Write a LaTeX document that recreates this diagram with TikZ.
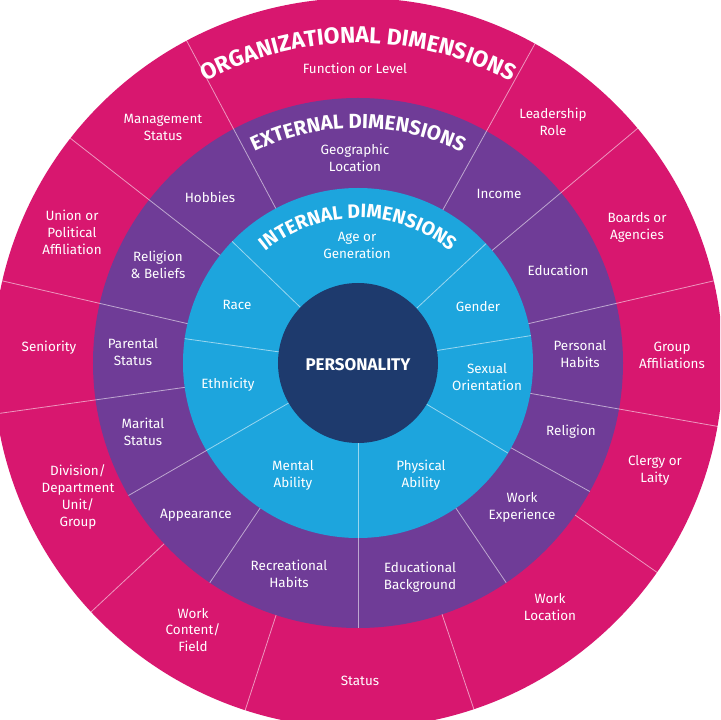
\documentclass[tikz,border=0pt]{standalone}
\usepackage{fontspec}
\setmainfont{Fira Sans}
\usetikzlibrary{decorations.text}
\definecolor{pinkc}{HTML}{D8176F}
\definecolor{purpc}{HTML}{6F3C97}
\definecolor{bluec}{HTML}{1DA5DD}
\definecolor{navyc}{HTML}{1E3A6D}
\tikzset{
  lab/.style={text=white,align=center,font=\fontsize{13.5}{17}\selectfont,inner sep=0pt},
  divline/.style={draw=white,opacity=0.55,line width=0.8bp},
}
\begin{document}
\begin{tikzpicture}[x=1bp,y=1bp]
\useasboundingbox (-358,-357) rectangle (362,363);
\clip (-358,-357) rectangle (362,363);
\fill[white] (-358,-357) rectangle (362,363);
\fill[pinkc] (0,0) circle[radius=365];
\fill[purpc] (0,0) circle[radius=265];
\fill[bluec] (0,0) circle[radius=175];
\foreach \a in {61,118,142,40,167,13,188,350,223,325,252,288.5}
  \draw[divline] (\a:265) -- (\a:370);
\foreach \a in {61,118,142,40,167,13,188,350,210,331,236,270,304}
  \draw[divline] (\a:175) -- (\a:265);
\foreach \a in {43,136,172,9,210,329,270}
  \draw[divline] (\a:80) -- (\a:175);
\fill[navyc] (0,0) circle[radius=80];
% titles
\path[decorate,decoration={text along path,text align=center,
  text={|\bfseries\fontsize{23}{23}\selectfont\color{white}|ORGANIZATIONAL DIMENSIONS}}]
  (130:320) arc[start angle=130,end angle=50,radius=320];
\path[decorate,decoration={text along path,text align=center,
  text={|\bfseries\fontsize{20.5}{20.5}\selectfont\color{white}|EXTERNAL DIMENSIONS}}]
  (132:235) arc[start angle=132,end angle=48,radius=235];
\path[decorate,decoration={text along path,text align=center,
  text={|\bfseries\fontsize{19.5}{19.5}\selectfont\color{white}|INTERNAL DIMENSIONS}}]
  (150:145) arc[start angle=150,end angle=30,radius=145];
\node[lab,font=\bfseries\fontsize{17}{17}\selectfont] (pers) at (0,-2) {PERSONALITY};
% outer
\node[lab] (o1) at (-3,295) {Function or Level};
\node[lab] (o2) at (-195,236) {Management\\Status};
\node[lab] (o3) at (195,241) {Leadership\\Role};
\node[lab] (o4) at (-286,131) {Union or\\Political\\Affiliation};
\node[lab] (o5) at (279,136) {Boards or\\Agencies};
\node[lab] (o6) at (-309,15) {Seniority};
\node[lab] (o7) at (314,8) {Group\\Affiliations};
\node[lab] (o8) at (-280,-134) {Division/\\Department\\Unit/\\Group};
\node[lab] (o9) at (297,-107) {Clergy or\\Laity};
\node[lab] (o10) at (-165,-267) {Work\\Content/\\Field};
\node[lab] (o11) at (2,-318) {Status};
\node[lab] (o12) at (192,-244) {Work\\Location};
% purple
\node[lab] (p1) at (-3,205) {Geographic\\Location};
\node[lab] (p2) at (-148,166) {Hobbies};
\node[lab] (p3) at (141,169) {Income};
\node[lab] (p4) at (-200,98) {Religion\\\& Beliefs};
\node[lab] (p5) at (200,93) {Education};
\node[lab] (p6) at (-225,11) {Parental\\Status};
\node[lab] (p7) at (222,9) {Personal\\Habits};
\node[lab] (p8) at (-215,-69) {Marital\\Status};
\node[lab] (p9) at (213,-69) {Religion};
\node[lab] (p10) at (-162,-152) {Appearance};
\node[lab] (p11) at (164,-144) {Work\\Experience};
\node[lab] (p12) at (-69,-211) {Recreational\\Habits};
\node[lab] (p13) at (62,-214) {Educational\\Background};
% inner
\node[lab] (i1) at (-1,118) {Age or\\Generation};
\node[lab] (i2) at (-121,58) {Race};
\node[lab] (i3) at (120,56) {Gender};
\node[lab] (i4) at (-130,-22) {Ethnicity};
\node[lab] (i5) at (129,-14) {Sexual\\Orientation};
\node[lab] (i6) at (-65,-112) {Mental\\Ability};
\node[lab] (i7) at (63,-112) {Physical\\Ability};
\end{tikzpicture}
\end{document}
